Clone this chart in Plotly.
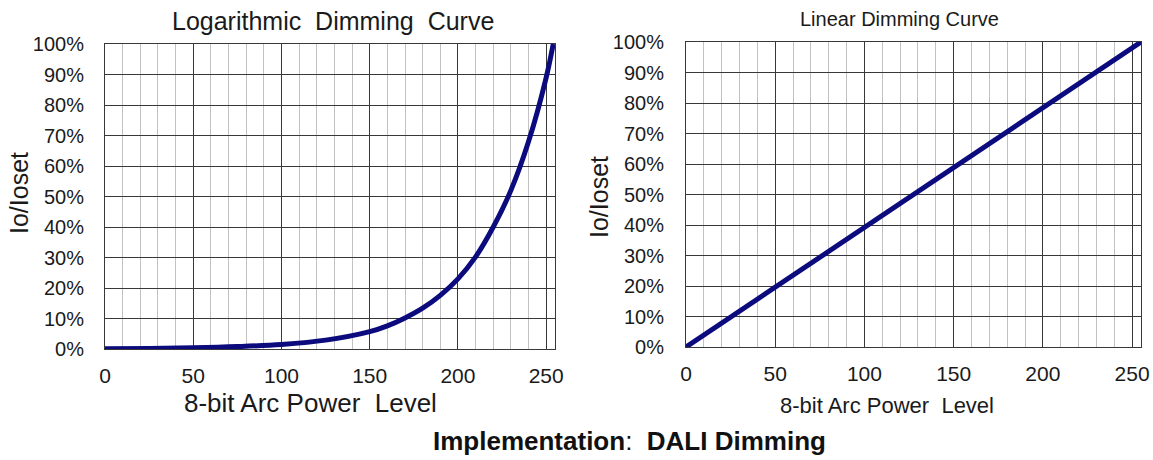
import plotly.graph_objects as go

# Data
log_level = [0, 25, 50, 75, 100, 125, 150, 160, 170, 180, 190, 200, 210, 220, 230, 240, 250, 254]
log_pct = [0.1, 0.2, 0.4, 0.8, 1.5, 2.9, 5.7, 7.6, 10.2, 13.4, 17.6, 23, 30.2, 40, 52, 68, 89, 100]

lin_level = [0, 255]
lin_pct = [0, 100]

x_ticks = [0, 50, 100, 150, 200, 250]
y_ticks = [0, 10, 20, 30, 40, 50, 60, 70, 80, 90, 100]
y_tick_text = [f"{v}%" for v in y_ticks]

left_title = "Logarithmic  Dimming  Curve"
right_title = "Linear Dimming Curve"
x_title = "8-bit Arc Power  Level"
y_title = "Io/Ioset"
caption = "<b>Implementation</b>:  <b>DALI Dimming</b>"

line_color = "#0b0b7e"
major = "#383838"
minor = "#c2c2c2"
text_color = "#1a1a1a"
font_family = "Liberation Sans, Arial, sans-serif"

W, H = 1153, 460


def px(x):
    return x / W


def py(y):
    return 1 - y / H


fig = go.Figure()
fig.add_trace(go.Scatter(x=log_level, y=log_pct, mode="lines",
                         line=dict(color=line_color, width=5, shape="spline", smoothing=1.0),
                         xaxis="x", yaxis="y", showlegend=False, hoverinfo="skip"))
fig.add_trace(go.Scatter(x=lin_level, y=lin_pct, mode="lines",
                         line=dict(color=line_color, width=5),
                         xaxis="x2", yaxis="y2", showlegend=False, hoverinfo="skip"))


def xax(domain, anchor, size, ticklen):
    return dict(domain=domain, anchor=anchor, range=[0, 255], tickvals=x_ticks,
                showgrid=True, gridcolor=major, gridwidth=1,
                minor=dict(dtick=10, tick0=0, showgrid=True, gridcolor=minor, gridwidth=1),
                showline=True, linecolor=major, linewidth=1, mirror=True,
                zeroline=False, ticks="outside", ticklen=ticklen, tickcolor="rgba(0,0,0,0)",
                tickfont=dict(size=size, color=text_color, family=font_family),
                automargin=False, fixedrange=True)


def yax(domain, anchor, size, ticklen):
    return dict(domain=domain, anchor=anchor, range=[0, 100], tickvals=y_ticks,
                ticktext=y_tick_text,
                showgrid=True, gridcolor=major, gridwidth=1,
                showline=True, linecolor=major, linewidth=1, mirror=True,
                zeroline=False, ticks="outside", ticklen=ticklen, tickcolor="rgba(0,0,0,0)",
                tickfont=dict(size=size, color=text_color, family=font_family),
                automargin=False, fixedrange=True)


def note(text, x, y, size, angle=0):
    return dict(text=text, x=px(x), y=py(y), xref="paper", yref="paper",
                showarrow=False, xanchor="center", yanchor="middle", textangle=angle,
                font=dict(size=size, color=text_color, family=font_family))


fig.update_layout(
    width=W, height=H,
    margin=dict(l=0, r=0, t=0, b=0),
    paper_bgcolor="white", plot_bgcolor="white",
    hovermode=False,
    xaxis=xax([px(105), px(555)], "y", 21, 8),
    yaxis=yax([py(349), py(44)], "x", 20, 16),
    xaxis2=xax([px(686), px(1141)], "y2", 21, 8),
    yaxis2=yax([py(347), py(42)], "x2", 20, 17),
    annotations=[
        note(left_title, 333, 21, 25),
        note(right_title, 899, 19, 20),
        note(x_title, 310, 403, 26),
        note(x_title, 887, 405, 22),
        note(y_title, 19, 193, 25, -90),
        note(y_title, 599, 197, 25, -90),
        dict(text=caption, x=px(629), y=py(441), xref="paper", yref="paper",
             showarrow=False, xanchor="center", yanchor="middle",
             font=dict(size=26, color="#111111", family=font_family)),
    ],
)

fig.write_html("out.html", config={"displayModeBar": False, "staticPlot": True},
               post_script="document.body.style.margin='0';document.body.style.overflow='hidden';")
